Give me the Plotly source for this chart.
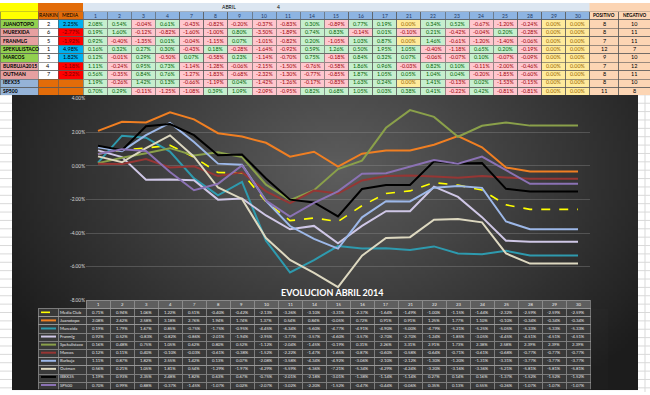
import plotly.graph_objects as go
import zlib, struct, base64

# ---------------- data ----------------
days = ["1", "2", "3", "4", "7", "8", "9", "10", "11", "14", "15", "16", "17",
        "21", "22", "23", "24", "25", "28", "29", "30"]

players = ["JUANOTOPO", "MUREXIDA", "FRANMLG", "SPEKULISTACO", "MARCOS",
           "BURBUJA2015", "OUTMAN", "IBEX35", "SP500"]
ranking = [2, 6, 5, 1, 3, 4, 7, None, None]
media = [2.25, -2.77, -1.92, 4.98, 1.82, -1.18, -3.22, None, None]
positivo = [8, 8, 7, 12, 9, 7, 8, 8, 11]
negativo = [10, 11, 11, 7, 10, 12, 11, 10, 8]

daily_juanotopo = [2.08, 0.54, -0.04, 0.61, -0.43, -0.82, -0.20, -0.37, -0.83, 0.30, -0.89, 0.77, 0.19, 0.00, 0.34, 0.52, -0.67, -1.20, -0.24, 0.00, 0.00]
daily_murexida = [0.19, 1.60, -0.12, -0.82, -1.60, -1.00, 0.80, -3.50, -1.89, 0.74, 0.83, -0.14, 0.01, -0.10, 0.21, -0.42, -0.04, 0.20, -0.28, 0.00, 0.00]
daily_franmlg = [0.92, -0.40, -1.35, 0.01, -0.04, -1.15, 0.07, -1.01, -0.82, 0.20, -1.05, 1.03, 0.87, 0.00, 1.46, -0.61, -1.20, -1.40, -0.06, 0.00, 0.00]
daily_spekulistaco = [0.16, 0.32, 0.27, 0.30, -0.43, 0.18, -0.28, -1.64, -0.92, 0.59, 1.26, 0.50, 1.95, 1.05, -0.40, -1.18, 0.65, 0.20, -0.19, 0.00, 0.00]
daily_marcos = [0.12, -0.01, 0.29, -0.50, 0.07, -0.58, 0.23, -1.14, -0.70, 0.75, -0.18, 0.84, 0.32, 0.07, -0.06, -0.07, 0.10, -0.07, -0.09, 0.00, 0.00]
daily_burbuja = [1.11, -0.24, 0.95, 0.73, -1.14, -1.28, -0.06, -2.15, -1.50, -0.76, -0.58, 1.86, 0.96, -0.03, 0.82, 0.10, -0.11, -2.00, -0.46, 0.00, 0.00]
daily_outman = [0.56, -0.35, 0.84, 0.76, -1.27, -1.83, -0.68, -2.32, -1.30, -0.77, -0.85, 1.87, 1.05, 0.05, 1.04, 0.04, -0.20, -1.85, -0.60, 0.00, 0.00]
daily_ibex35 = [1.19, -0.26, 1.42, 0.13, -0.66, -1.19, 0.04, -1.42, -1.26, -0.17, -0.83, 1.63, 0.24, 0.00, 1.41, -0.13, 0.02, -1.53, -0.15, 0.00, 0.00]
daily_sp500 = [0.70, 0.29, -0.11, -1.25, -1.08, 0.39, 1.09, -2.09, -0.95, 0.82, 0.68, 1.05, 0.03, 0.38, 0.41, -0.22, 0.42, -0.81, -0.81, 0.00, 0.00]

series_names = ["Media Club", "Juanotopo", "Murexida", "Franmlg", "Spekulistaco",
                "Marcos", "Burbuja", "Outman", "IBEX35", "SP500"]
cum_media_club = [0.71, 0.94, 1.06, 1.22, 0.51, -0.40, -0.42, -2.13, -3.26, -3.10, -3.31, -2.37, -1.64, -1.49, -1.00, -1.15, -1.44, -2.32, -2.59, -2.59, -2.59]
cum_juanotopo = [2.08, 2.62, 2.58, 3.18, 2.76, 1.94, 1.74, 1.37, 0.54, 0.84, -0.05, 0.72, 0.91, 0.91, 1.25, 1.77, 1.10, -0.10, -0.34, -0.34, -0.34]
cum_murexida = [0.19, 1.79, 1.67, 0.85, -0.75, -1.75, -0.95, -4.45, -6.34, -5.60, -4.77, -4.91, -4.90, -5.00, -4.79, -5.21, -5.25, -5.05, -5.33, -5.33, -5.33]
cum_franmlg = [0.92, 0.52, -0.83, -0.82, -0.86, -2.01, -1.94, -2.95, -3.77, -3.57, -4.60, -3.57, -2.70, -2.70, -1.24, -1.85, -3.05, -4.45, -4.51, -4.51, -4.51]
cum_spekulistaco = [0.16, 0.48, 0.75, 1.05, 0.62, 0.80, 0.52, -1.12, -2.04, -1.45, -0.19, 0.31, 2.26, 3.31, 2.91, 1.73, 2.38, 2.58, 2.39, 2.39, 2.39]
cum_marcos = [0.12, 0.11, 0.40, -0.10, -0.03, -0.61, -0.38, -1.52, -2.22, -1.47, -1.65, -0.87, -0.60, -0.58, -0.64, -0.71, -0.61, -0.68, -0.77, -0.77, -0.77]
cum_burbuja = [1.11, 0.87, 1.82, 2.55, 1.42, 0.13, 0.07, -2.08, -3.58, -4.34, -4.92, -3.06, -2.10, -2.12, -1.30, -1.20, -1.31, -3.31, -3.77, -3.77, -3.77]
cum_outman = [0.56, 0.21, 1.05, 1.81, 0.54, -1.29, -1.97, -4.29, -5.59, -6.36, -7.21, -5.34, -4.29, -4.24, -3.20, -3.16, -3.36, -5.21, -5.81, -5.81, -5.81]
cum_ibex35 = [1.19, 0.93, 2.35, 2.48, 1.82, 0.63, 0.67, -0.75, -2.01, -2.18, -3.01, -1.38, -1.14, -1.14, 0.27, 0.14, 0.16, -1.37, -1.52, -1.52, -1.52]
cum_sp500 = [0.70, 0.99, 0.88, -0.37, -1.45, -1.07, 0.02, -2.07, -3.02, -2.20, -1.52, -0.47, -0.44, -0.06, 0.35, 0.13, 0.55, -0.26, -1.07, -1.07, -1.07]

y_ticks = [4, 2, 0, -2, -4, -6, -8]
month_label = ["ABRIL", "4"]
chart_title = "EVOLUCION ABRIL 2014"

# ---------------- styles / layout constants ----------------
W, H = 650, 395
FONT = "Lato"
line_colors = ["#FFFF00", "#F07F22", "#2E9AAE", "#CFC7E6", "#8AA04A",
               "#963634", "#9DB8E8", "#DDD8C0", "#000000", "#8B72B4"]
ORANGE = "#E36C09"
GREEN_N, PINK_N, BLUE_N = "#92D050", "#E6A0A0", "#95B3D7"

daily_rows = [daily_juanotopo, daily_murexida, daily_franmlg, daily_spekulistaco,
              daily_marcos, daily_burbuja, daily_outman, daily_ibex35, daily_sp500]
cum_rows = [cum_media_club, cum_juanotopo, cum_murexida, cum_franmlg, cum_spekulistaco,
            cum_marcos, cum_burbuja, cum_outman, cum_ibex35, cum_sp500]


def pct(v):
    return "" if v is None else f"{v:.2f}%"


def fill_for(v):
    return "#C6EFCE" if v > 0 else ("#FFC7CE" if v < 0 else "#FFEB9C")


def font_for(v):
    return "#006100" if v > 0 else ("#9C0006" if v < 0 else "#9C6500")


def edges_of(x0, widths):
    e = [x0]
    for w in widths:
        e.append(e[-1] + w)
    return e


annotations = []


def put_text(xp, yp, text, color, size, bold=False, anchor="center"):
    annotations.append(dict(
        text=f"<b>{text}</b>" if bold else text, xref="paper", yref="paper",
        x=xp / W, y=1 - yp / H, xanchor=anchor, yanchor="middle", showarrow=False,
        borderpad=0, font=dict(size=size, color=color, family=FONT)))


# ---------------- gradient background image ----------------
def gradient_png(w, h):
    raw = bytearray()
    for j in range(h):
        raw.append(0)
        for i in range(w):
            dx = (i / (w - 1) - 0.52) / 0.62
            dy = (j / (h - 1) - 0.25) / 0.95
            d = min((dx * dx + dy * dy) ** 0.5, 1.0)
            raw.append(int(94 - 66 * d))

    def chunk(t, d):
        c = struct.pack(">I", len(d)) + t + d
        return c + struct.pack(">I", zlib.crc32(t + d) & 0xFFFFFFFF)
    png = (b"\x89PNG\r\n\x1a\n" + chunk(b"IHDR", struct.pack(">IIBBBBB", w, h, 8, 0, 0, 0, 0))
           + chunk(b"IDAT", zlib.compress(bytes(raw))) + chunk(b"IEND", b""))
    return "data:image/png;base64," + base64.b64encode(png).decode()


fig = go.Figure()

# ---------------- top table (fills via go.Table, text via annotations) ----------------
n_p = len(players)
name_fill = [GREEN_N if (m is not None and m > 0) else (PINK_N if m is not None else BLUE_N) for m in media]
rank_fill = ["#FFFFFF" if r is not None else ORANGE for r in ranking]
media_fill = [("#00B0F0" if m > 0 else "#FF0000") if m is not None else ORANGE for m in media]
media_font = [("#000000" if m > 0 else "#7A0000") if m is not None else "#000000" for m in media]

top_widths = [38, 20, 25] + [24.14] * len(days) + [29, 31]
top_edges = edges_of(0, top_widths)
top_rows = n_p + 2
top_rh = 8.48
top_h = top_rh * top_rows

cols_fill = [["#FFFF00"] + name_fill, [ORANGE] + rank_fill, [ORANGE] + media_fill]
for k in range(len(days)):
    cols_fill.append(["#8DB4E2"] + [fill_for(row[k]) for row in daily_rows])
cols_fill += [["#FCD5B4"] * (n_p + 1)] * 2
hdr_fill = ["#FFFF00", ORANGE, ORANGE] + ["#DCE6F1"] * len(days) + ["#FCD5B4", "#FCD5B4"]
n_cols = len(top_widths)

fig.add_trace(go.Table(
    domain=dict(x=[0, 1], y=[1 - (top_h + 1) / H, 1]),
    columnwidth=top_widths,
    header=dict(values=[""] * n_cols, fill_color=hdr_fill, height=top_rh,
                line=dict(color=hdr_fill, width=0.5)),
    cells=dict(values=[[""] * (n_p + 1)] * n_cols, fill_color=cols_fill, height=top_rh,
               line=dict(color="#595959", width=0.6)),
))


def top_cx(c):
    return (top_edges[c] + top_edges[c + 1]) / 2


def top_cy(r):
    return top_rh * (r + 0.5)


# header row texts
put_text(top_edges[3 + 6] + 1, top_cy(0), month_label[0], "#000000", 5)
put_text(top_edges[3 + 8] + 2, top_cy(0), month_label[1], "#000000", 5)
put_text(top_cx(1), top_rh * 1.45, "RANKIN", "#000000", 5)
put_text(top_cx(2), top_rh * 1.45, "MEDIA", "#000000", 5)
put_text(top_cx(n_cols - 2), top_rh * 1.45, "POSITIVO", "#000000", 4.6, bold=True)
put_text(top_cx(n_cols - 1), top_rh * 1.45, "NEGATIVO", "#000000", 4.6, bold=True)
for k, d in enumerate(days):
    put_text(top_cx(3 + k), top_cy(1), d, "#1F3864", 5)
for i, p in enumerate(players):
    r = i + 2
    put_text(1.5, top_cy(r), p, "#000000", 5, bold=True, anchor="left")
    if ranking[i] is not None:
        put_text(top_cx(1), top_cy(r), str(ranking[i]), "#000000", 5.5)
        put_text(top_cx(2), top_cy(r), pct(media[i]), media_font[i], 5.5)
    for k in range(len(days)):
        v = daily_rows[i][k]
        put_text(top_cx(3 + k), top_cy(r), pct(v), font_for(v), 5.3)
    put_text(top_cx(n_cols - 2), top_cy(r), str(positivo[i]), "#000000", 5.5)
    put_text(top_cx(n_cols - 1), top_cy(r), str(negativo[i]), "#000000", 5.5)

# ---------------- line chart ----------------
for name, vals, col in zip(series_names, cum_rows, line_colors):
    fig.add_trace(go.Scatter(
        x=days, y=vals, mode="lines", name=name, showlegend=False,
        line=dict(color=col, width=1.6 if name == "Media Club" else 2.0,
                  dash="dash" if name == "Media Club" else "solid"),
        xaxis="x", yaxis="y"))

# ---------------- bottom data table ----------------
bt_x0 = 38
bt_widths = [20, 28] + [24] * len(days)
bt_edges = edges_of(bt_x0, bt_widths)
bt_rh = 8.2
bt_top = 392 - bt_rh * 11
bt_cols = len(bt_widths)
fig.add_trace(go.Table(
    domain=dict(x=[bt_x0 / W, bt_edges[-1] / W], y=[(H - 393) / H, (H - bt_top) / H]),
    columnwidth=bt_widths,
    header=dict(values=[""] * bt_cols, height=bt_rh,
                fill_color=["rgba(0,0,0,0)", "rgba(0,0,0,0)"] + ["#5E5E5E"] * len(days),
                line=dict(color=["rgba(0,0,0,0)", "rgba(0,0,0,0)"] + ["#A6A6A6"] * len(days), width=0.6)),
    cells=dict(values=[[""] * len(series_names)] * bt_cols, height=bt_rh,
               fill_color="rgba(60,60,60,0.92)",
               line=dict(color="#A6A6A6", width=0.6)),
))


def bt_cx(c):
    return (bt_edges[c] + bt_edges[c + 1]) / 2


def bt_cy(r):
    return bt_top + bt_rh * (r + 0.5)


shapes = []
for k, d in enumerate(days):
    put_text(bt_cx(2 + k), bt_cy(0), d, "#F2F2F2", 4.2)
for i, name in enumerate(series_names):
    r = i + 1
    yk = 1 - bt_cy(r) / H
    shapes.append(dict(type="line", xref="paper", yref="paper",
                       x0=(bt_edges[0] + 3) / W, x1=(bt_edges[1] - 2) / W, y0=yk, y1=yk,
                       line=dict(color=line_colors[i], width=1.6 if i == 0 else 2,
                                 dash="dash" if i == 0 else "solid")))
    put_text(bt_edges[1] + 1, bt_cy(r), name, "#E6E6E6", 4.2, anchor="left")
    for k in range(len(days)):
        put_text(bt_cx(2 + k), bt_cy(r), pct(cum_rows[i][k]), "#E6E6E6", 4.2)

# chart title
put_text(332, 294, chart_title, "#FFFFFF", 9, bold=True)

# spreadsheet grid lines outside the chart
y0 = top_h
while y0 < H:
    for xa, xb in ((0, 12), (638, 650)):
        shapes.append(dict(type="line", xref="paper", yref="paper",
                           x0=xa / W, x1=xb / W, y0=1 - y0 / H, y1=1 - y0 / H,
                           line=dict(color="#D9D9D9", width=1), layer="below"))
    y0 += 8.5
shapes.append(dict(type="line", xref="paper", yref="paper", x0=645 / W, x1=645 / W,
                   y0=0, y1=1 - top_h / H, line=dict(color="#D9D9D9", width=1), layer="below"))

fig.update_layout(
    width=W, height=H, margin=dict(l=0, r=0, t=0, b=0),
    paper_bgcolor="#FFFFFF", plot_bgcolor="rgba(0,0,0,0)",
    showlegend=False,
    shapes=shapes, annotations=annotations,
    images=[dict(source=gradient_png(160, 80), xref="paper", yref="paper",
                 x=12 / W, y=1 - 93 / H, sizex=626 / W, sizey=(393 - 93) / H,
                 xanchor="left", yanchor="top", sizing="stretch", layer="below")],
    xaxis=dict(domain=[86 / W, 590 / W], type="category", categoryorder="array",
               categoryarray=days, range=[-0.5, len(days) - 0.5],
               showticklabels=False, showgrid=False, zeroline=False, showline=False,
               anchor="y"),
    yaxis=dict(domain=[(H - 302) / H, (H - 97) / H], range=[-8, 4],
               tickvals=y_ticks, ticktext=[f"{v:.2f}%" for v in y_ticks],
               tickfont=dict(size=4.8, color="#D9D9D9", family=FONT),
               showgrid=True, gridcolor="rgba(150,150,150,0.35)", gridwidth=1,
               zeroline=False, showline=False, ticks="", anchor="x"),
)

fig.write_html("out.html",
               config=dict(displayModeBar=False),
               post_script="document.body.style.margin='0';document.body.style.overflow='hidden';")
